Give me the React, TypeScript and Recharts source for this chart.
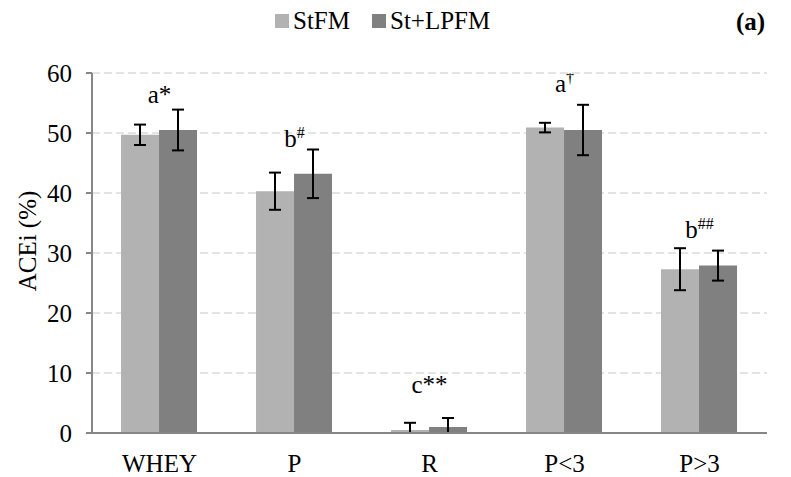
import React from 'react';
import { ComposedChart, Bar, ErrorBar, Scatter, XAxis, YAxis, CartesianGrid, Legend } from 'recharts';

const categories = ['WHEY', 'P', 'R', 'P<3', 'P>3'];
const stfm = [49.7, 40.3, 0.5, 50.9, 27.3];
const stfmErr = [1.7, 3.1, 1.2, 0.8, 3.5];
const stlpfm = [50.5, 43.2, 1.0, 50.5, 27.9];
const stlpfmErr = [3.4, 4.05, 1.5, 4.2, 2.5];
const noteLetters = ['a', 'b', 'c', 'a', 'b'];
const noteMarks = ['*', '#', '**', '\u2020', '##'];
const noteY = [55, 47.7, 6.7, 56.8, 32.5];
const yTicks = [0, 10, 20, 30, 40, 50, 60];
const edgeTicks = [0, 1, 2, 3, 4, 5];

const FONT = 'Liberation Serif, Times New Roman, serif';
const FS = 25;
const LIGHT = '#b2b2b2';
const DARK = '#808080';
const AXIS = '#868686';

// error bars are cut at the axis (as in the source), so the lower arm never goes below 0
const data = categories.map((cat, i) => ({
  cat,
  stfm: stfm[i],
  stfmErr: [Math.min(stfmErr[i], stfm[i]), stfmErr[i]],
  stlpfm: stlpfm[i],
  stlpfmErr: [Math.min(stlpfmErr[i], stlpfm[i]), stlpfmErr[i]],
  note: noteY[i],
  letter: noteLetters[i],
  mark: noteMarks[i],
}));

function NoteShape(props: any) {
  const { cx, cy, payload } = props;
  const star = payload.mark.includes('*');
  return (
    <text x={cx} y={cy} textAnchor="middle" fontFamily={FONT} fontSize={FS} fill="#000">
      {payload.letter}
      {star ? (
        <tspan>{payload.mark}</tspan>
      ) : (
        <tspan dy={-9} fontSize={16}>{payload.mark}</tspan>
      )}
    </text>
  );
}

function LegendContent() {
  const items = [
    { name: 'StFM', color: LIGHT },
    { name: 'St+LPFM', color: DARK },
  ];
  return (
    <div style={{ display: 'flex', alignItems: 'center', fontFamily: FONT, fontSize: FS, lineHeight: '30px' }}>
      {items.map((it) => (
        <div key={it.name} style={{ display: 'flex', alignItems: 'center', marginRight: 22 }}>
          <span style={{ width: 14, height: 14, background: it.color, marginRight: 4, display: 'inline-block' }} />
          <span>{it.name}</span>
        </div>
      ))}
    </div>
  );
}

export default function App() {
  return (
    <div style={{ position: 'absolute', left: 0, top: 0, width: 791, height: 477, background: '#fff' }}>
      <ComposedChart
        width={791}
        height={477}
        data={data}
        margin={{ top: 73, right: 24, bottom: 0, left: 32 }}
        barCategoryGap="21.5%"
        barGap={0}
      >
        <CartesianGrid vertical={false} stroke="#c8c8c8" strokeDasharray="8 4" />
        <XAxis
          xAxisId="edge"
          type="number"
          domain={[0, 5]}
          ticks={edgeTicks}
          allowDataOverflow
          height={0}
          axisLine={false}
          tick={false}
          tickSize={7}
          tickLine={{ stroke: AXIS, strokeWidth: 2 }}
        />
        <XAxis
          dataKey="cat"
          height={44}
          axisLine={{ stroke: AXIS, strokeWidth: 2 }}
          tickLine={false}
          tickSize={6}
          tickMargin={15}
          tick={{ fill: '#000', fontFamily: FONT, fontSize: FS }}
        />
        <YAxis
          domain={[0, 60]}
          ticks={yTicks}
          allowDataOverflow
          width={60}
          axisLine={{ stroke: AXIS, strokeWidth: 2 }}
          tickLine={{ stroke: AXIS, strokeWidth: 2 }}
          tickSize={6}
          tickMargin={14}
          tick={{ fill: '#000', fontFamily: FONT, fontSize: FS }}
          label={() => (
            <text
              x={27}
              y={241}
              transform="rotate(-90, 27, 241)"
              textAnchor="middle"
              dominantBaseline="central"
              fontFamily={FONT}
              fontSize={FS}
              fill="#000"
            >
              ACEi (%)
            </text>
          )}
        />
        <Legend
          verticalAlign="middle"
          align="center"
          wrapperStyle={{ top: 6, left: 275, width: 300 }}
          content={<LegendContent />}
        />
        <Bar dataKey="stfm" fill={LIGHT} isAnimationActive={false}>
          <ErrorBar dataKey="stfmErr" width={6} stroke="#000" strokeWidth={2} />
        </Bar>
        <Bar dataKey="stlpfm" fill={DARK} isAnimationActive={false}>
          <ErrorBar dataKey="stlpfmErr" width={6} stroke="#000" strokeWidth={2} />
        </Bar>
        <Scatter dataKey="note" shape={<NoteShape />} isAnimationActive={false} legendType="none" />
      </ComposedChart>
      <div
        style={{
          position: 'absolute',
          left: 736,
          top: 7,
          fontFamily: FONT,
          fontSize: FS,
          fontWeight: 'bold',
          lineHeight: '30px',
        }}
      >
        (a)
      </div>
    </div>
  );
}
